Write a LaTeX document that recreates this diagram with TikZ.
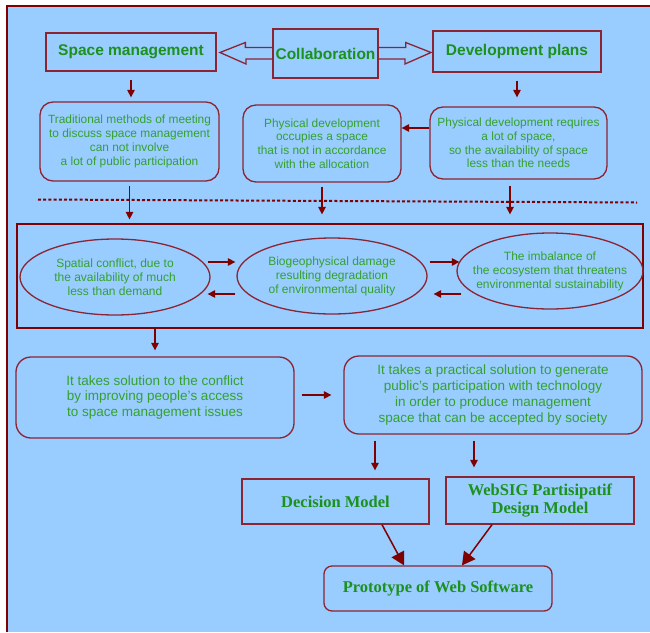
\documentclass[tikz,border=0pt]{standalone}
\usepackage{fontspec}
\setmainfont{Liberation Sans}
\newfontfamily\serifb{Liberation Serif}
\usetikzlibrary{shapes.geometric,arrows.meta}
\definecolor{bg}{HTML}{99CCFF}
\definecolor{bdr}{RGB}{140,36,50}
\definecolor{arrc}{RGB}{128,0,0}
\definecolor{gbold}{RGB}{28,145,28}
\definecolor{gtext}{RGB}{52,162,44}
\tikzset{
  titlebox/.style={draw=bdr,line width=1.3pt,inner sep=0pt,align=center,text=gbold,font=\fontsize{15.5}{17}\selectfont\bfseries},
  roundbox/.style={draw=bdr,line width=1.3pt,rounded corners=13pt,inner sep=0pt,align=center,text=gtext,font=\fontsize{11.9}{13.8}\selectfont},
  solbox/.style={draw=bdr,line width=1.3pt,rounded corners=15pt,inner sep=0pt,align=center,text=gtext,font=\fontsize{13.5}{15.7}\selectfont},
  ellbox/.style={ellipse,draw=bdr,line width=1.3pt,inner sep=0pt},
  elltext/.style={inner sep=0pt,align=center,text=gtext,font=\fontsize{12}{14}\selectfont},
  modelbox/.style={draw=bdr,line width=1.3pt,inner sep=0pt,align=center,text=gbold,font=\serifb\fontsize{16.5}{18}\selectfont\bfseries},
  arr/.style={draw=arrc,line width=1.3pt,-{Triangle[length=7.5pt,width=7.5pt]}},
  bigarr/.style={draw=arrc,line width=1.5pt,-{Triangle[length=13pt,width=14pt]}},
}
\begin{document}
\begin{tikzpicture}[x=1pt,y=-1pt]
\useasboundingbox (0,0) rectangle (650,632);
\fill[bg] (7,6) rectangle (650,632);
\draw[arrc,line width=1.5pt] (7,632) -- (7,6) -- (650,6);

% top row
\node[titlebox,minimum width=170pt,minimum height=38pt] (sm) at (131,52) {Space management};
\node[titlebox,minimum width=105pt,minimum height=49pt] (col) at (325.5,53.5) {Collaboration};
\node[titlebox,minimum width=168pt,minimum height=41pt] (dp) at (517,51.5) {Development plans};
% double arrow
\draw[bdr,line width=1.3pt,line join=miter] ([yshift=6pt]col.west) -- ++(-27,0) -- ++(0,-5) -- (220,52.5) -- (246,64) -- ++(0,-5) -- ([yshift=-5.5pt]col.west);
\draw[bdr,line width=1.3pt,line join=miter] ([yshift=6pt]col.east) -- ++(27,0) -- ++(0,-5) -- (431,52.5) -- (405,64) -- ++(0,-5) -- ([yshift=-5.5pt]col.east);

% second row
\node[roundbox,minimum width=179pt,minimum height=79pt] (b1) at (129.5,141.5) {Traditional methods of meeting\\to discuss space management\\can not involve\\a lot of public participation};
\node[roundbox,minimum width=158pt,minimum height=77pt] (b2) at (322,143.5) {Physical development\\occupies a space\\that is not in accordance\\with the allocation};
\node[roundbox,minimum width=177pt,minimum height=72pt] (b3) at (518.5,143) {Physical development requires\\a lot of space,\\so the availability of space\\less than the needs};

\draw[arr,shorten <=8pt,shorten >=4pt] (sm.south) -- (sm.south |- b1.north);
\draw[arr,shorten <=8pt,shorten >=9pt] (dp.south) -- (dp.south |- b3.north);
\draw[arr] ([yshift=15pt]b3.west) -- ([yshift=15.5pt]b2.east);

% dotted line
\coordinate (dl) at (38,199.5);
\coordinate (dr) at (637,202.5);
\draw[arrc,line width=2pt,dash pattern=on 3pt off 2.2pt] (dl) -- (dr);

% big rectangle with ellipses
\node[draw=arrc,line width=1.2pt,minimum width=626pt,minimum height=104pt,inner sep=0pt] (big) at (330,276) {};
\node[ellbox,minimum width=190pt,minimum height=76pt] (e1) at (115,277) {};
\node[ellbox,minimum width=190pt,minimum height=76pt] (e2) at (332,276) {};
\node[ellbox,minimum width=186pt,minimum height=76pt] (e3) at (550,271) {};
\node[elltext] (t1) at (e1.center) {Spatial conflict, due to\\the availability of much\\less than demand};
\node[elltext] (t2) at (e2.center) {Biogeophysical damage\\resulting degradation\\of environmental quality};
\node[elltext] (t3) at (e3.center) {The imbalance of\\the ecosystem that threatens\\environmental sustainability};

\draw[arr,shorten <=4pt,shorten >=4pt] (b1.south) -- (b1.south |- big.north);
\draw[arr,shorten <=4pt,shorten >=9pt] (b2.south) -- (b2.south |- big.north);
\coordinate (b3s) at ([xshift=-8.5pt]b3.south);
\draw[arr,shorten <=6pt,shorten >=9pt] (b3s) -- (b3s |- big.north);

\draw[arr,shorten <=-3pt,shorten >=1pt] ([yshift=15pt]e1.east) -- ([yshift=14pt]e2.west);
\draw[arr,shorten <=1pt,shorten >=-3pt] ([yshift=-18pt]e2.west) -- ([yshift=-17pt]e1.east);
\draw[arr,shorten <=2pt,shorten >=-3pt] ([yshift=14pt]e2.east) -- ([yshift=9pt]e3.west);
\draw[arr,shorten <=-5pt,shorten >=6pt] ([yshift=-23pt]e3.west) -- ([yshift=-18pt]e2.east);

% solution boxes
\node[solbox,minimum width=278pt,minimum height=81pt] (s1) at (155,397.5) {It takes solution to the conflict\\by improving people's access\\to space management issues};
\node[solbox,minimum width=298pt,minimum height=78pt] (s2) at (493,395) {It takes a practical solution to generate\\public's participation with technology\\in order to produce management\\space that can be accepted by society};
\draw[arr,shorten >=6pt] (s1.south |- big.south) -- (s1.north);
\draw[arr,shorten <=7pt,shorten >=12pt] ([yshift=2.5pt]s1.east) -- ([yshift=0pt]s2.west);

% models
\node[modelbox,minimum width=187pt,minimum height=45pt] (dm) at (335.5,501.5) {Decision Model};
\node[modelbox,minimum width=188pt,minimum height=47pt] (ws) at (540,500.5) {WebSIG Partisipatif\\Design Model};
\node[modelbox,rounded corners=8pt,minimum width=228pt,minimum height=45pt] (pr) at (438,588.5) {Prototype of Web Software};

\coordinate (a1) at ([xshift=-118pt]s2.south);
\coordinate (a2) at ([xshift=-19pt]s2.south);
\draw[arr,shorten <=6pt,shorten >=8pt] (a1) -- (a1 |- dm.north);
\draw[arr,shorten <=6pt,shorten >=9pt] (a2) -- (a2 |- ws.north);

\draw[bigarr] ([xshift=46.5pt]dm.south) -- ([xshift=-34pt]pr.north);
\draw[bigarr] ([xshift=-48pt]ws.south) -- ([xshift=24pt]pr.north);
\end{tikzpicture}
\end{document}
